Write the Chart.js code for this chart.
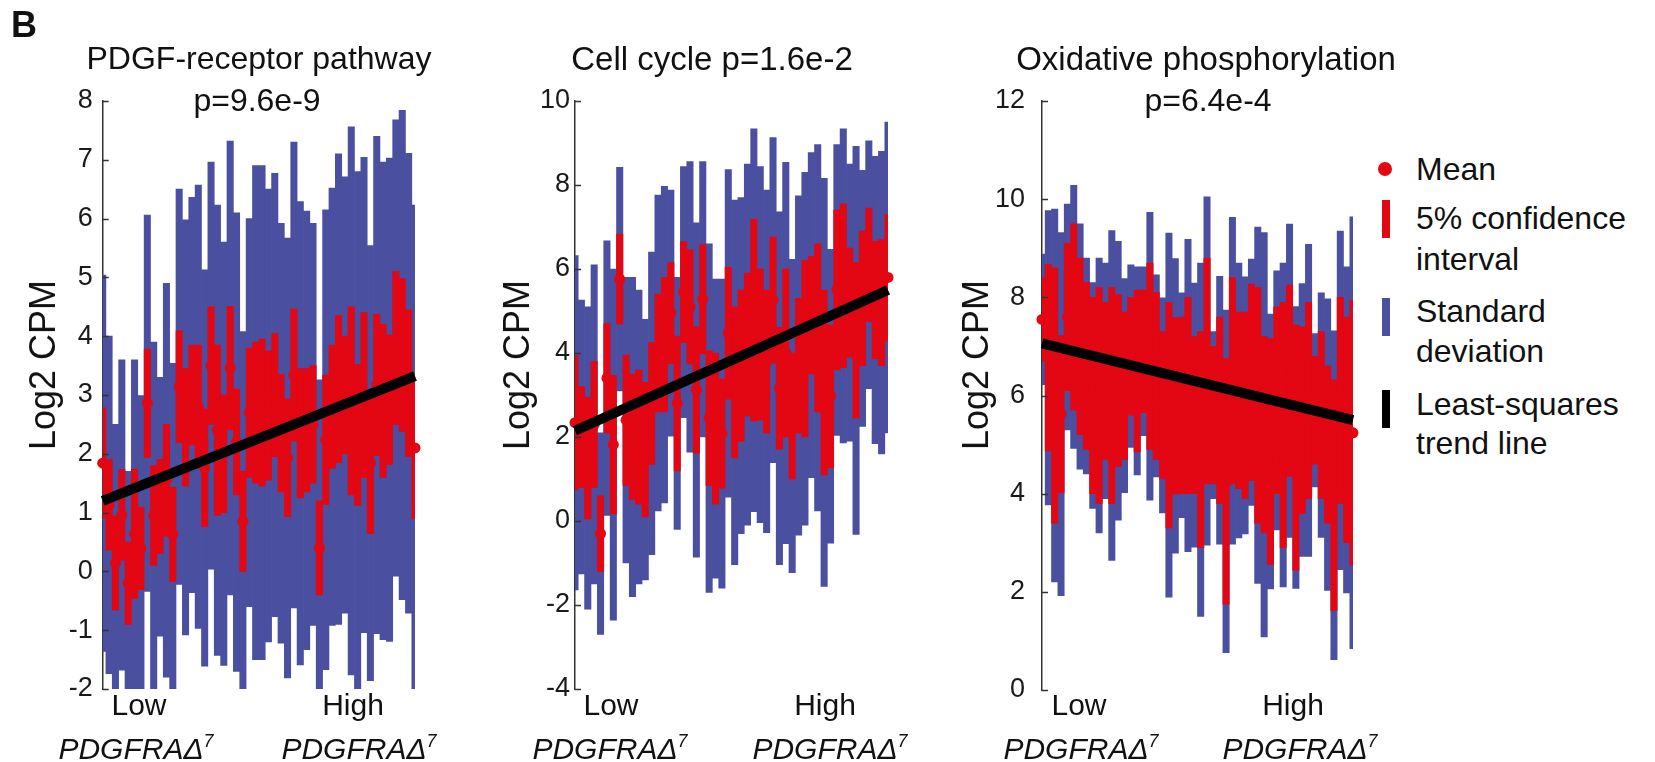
<!DOCTYPE html>
<html>
<head>
<meta charset="utf-8">
<script src="https://cdn.jsdelivr.net/npm/chart.js@4.4.1/dist/chart.umd.min.js"></script>
<style>
  html, body { margin: 0; padding: 0; background: #fff; }
  #fig { position: relative; width: 1655px; height: 762px; overflow: hidden;
         font-family: 'Liberation Sans', Arial, Helvetica, sans-serif; color: #111; }
  #fig canvas { position: absolute; top: 0; }
  .c { position: absolute; white-space: nowrap; transform: translate(-50%, -50%); line-height: 1; }
  .yt { position: absolute; white-space: nowrap; transform: translate(-50%, -50%) rotate(-90deg);
        line-height: 1; font-size: 36px; }
  .l { position: absolute; white-space: nowrap; transform: translateY(-50%); line-height: 1; font-size: 32px; }
  .ttl { font-size: 32px; }
  .xl { font-size: 30px; }
  .it { font-style: italic; }
  .it sup { font-size: 18px; vertical-align: 12px; line-height: 0; }
  .sw { position: absolute; }
</style>
</head>
<body>
<div id="fig">
  <canvas id="p1" width="440" height="762" style="left:0px"></canvas>
  <canvas id="p2" width="450" height="762" style="left:460px"></canvas>
  <canvas id="p3" width="450" height="762" style="left:920px"></canvas>

  <div class="c" style="left:24px;top:25px;font-size:36px;font-weight:bold;">B</div>

  <div class="c ttl" style="left:259px;top:58px;">PDGF-receptor pathway</div>
  <div class="c ttl" style="left:257px;top:100px;">p=9.6e-9</div>
  <div class="c ttl" style="left:712px;top:58px;font-size:33px;">Cell cycle p=1.6e-2</div>
  <div class="c ttl" style="left:1206px;top:58px;font-size:33px;">Oxidative phosphorylation</div>
  <div class="c ttl" style="left:1208px;top:100px;">p=6.4e-4</div>

  <div class="yt" style="left:43px;top:365px;">Log2 CPM</div>
  <div class="yt" style="left:517px;top:365px;">Log2 CPM</div>
  <div class="yt" style="left:976px;top:365px;">Log2 CPM</div>

  <div class="c xl" style="left:139px;top:705px;">Low</div>
  <div class="c xl" style="left:353px;top:705px;">High</div>
  <div class="c xl it" style="left:136px;top:749px;">PDGFRA&Delta;<sup>7</sup></div>
  <div class="c xl it" style="left:359px;top:749px;">PDGFRA&Delta;<sup>7</sup></div>

  <div class="c xl" style="left:611px;top:705px;">Low</div>
  <div class="c xl" style="left:825px;top:705px;">High</div>
  <div class="c xl it" style="left:610px;top:749px;">PDGFRA&Delta;<sup>7</sup></div>
  <div class="c xl it" style="left:830px;top:749px;">PDGFRA&Delta;<sup>7</sup></div>

  <div class="c xl" style="left:1079px;top:705px;">Low</div>
  <div class="c xl" style="left:1293px;top:705px;">High</div>
  <div class="c xl it" style="left:1081px;top:749px;">PDGFRA&Delta;<sup>7</sup></div>
  <div class="c xl it" style="left:1300px;top:749px;">PDGFRA&Delta;<sup>7</sup></div>

  <!-- legend -->
  <div class="sw" style="left:1378px;top:162px;width:14px;height:14px;border-radius:50%;background:#e30613;"></div>
  <div class="l" style="left:1416px;top:169px;">Mean</div>
  <div class="sw" style="left:1382px;top:200px;width:8px;height:38px;background:#e30613;"></div>
  <div class="l" style="left:1416px;top:218px;">5% confidence</div>
  <div class="l" style="left:1416px;top:259px;">interval</div>
  <div class="sw" style="left:1382px;top:298px;width:8px;height:38px;background:#4a4f9f;"></div>
  <div class="l" style="left:1416px;top:311px;">Standard</div>
  <div class="l" style="left:1416px;top:351px;">deviation</div>
  <div class="sw" style="left:1382px;top:390px;width:8px;height:38px;background:#000;"></div>
  <div class="l" style="left:1416px;top:404px;">Least-squares</div>
  <div class="l" style="left:1416px;top:443px;">trend line</div>
</div>

<script>
// PDGF-receptor pathway: per-sample mean, 5% CI half-width, standard deviation
const p1Mean = [1.84, 1.13, 0.14, 0.96, -0.2, 0.64, 0.39, 2.86, 0.95, 1.1, 1.55, 0.63, 3.14, 2.45, 3.0, 2.8, 1.76, 3.5, 2.4, 2.0, 3.46, 2.2, 0.85, 2.7, 2.7, 2.7, 2.65, 3.0, 2.35, 1.93, 3.34, 2.35, 2.4, 2.5, 0.4, 2.24, 2.8, 3.1, 3.0, 2.9, 2.32, 3.0, 1.84, 3.17, 2.9, 2.92, 3.8, 3.68, 3.2, 2.1];
const p1Ci = [0.94, 0.77, 0.8, 0.77, 0.7, 1.1, 0.7, 0.92, 0.85, 0.8, 0.95, 0.8, 0.95, 1.0, 0.85, 1.05, 1.0, 1.0, 1.45, 1.0, 1.05, 0.9, 0.85, 1.1, 1.2, 1.25, 1.1, 1.05, 1.0, 1.0, 1.12, 1.1, 1.05, 1.0, 0.8, 1.1, 1.05, 1.25, 1.0, 1.6, 1.2, 1.4, 1.2, 1.2, 1.3, 1.1, 1.3, 1.3, 1.25, 1.2];
const p1Sd = [3.2, 2.87, 2.36, 2.64, 1.9, 2.96, 2.6, 3.2, 2.95, 2.2, 3.35, 2.91, 3.36, 3.53, 3.36, 3.77, 3.37, 3.46, 3.83, 3.6, 3.86, 3.9, 3.23, 3.3, 4.2, 4.2, 3.85, 3.77, 3.57, 3.74, 3.96, 3.94, 3.73, 3.42, 2.86, 3.91, 3.72, 4.0, 3.71, 4.66, 4.48, 4.04, 3.7, 4.23, 4.06, 4.11, 3.88, 4.16, 3.91, 4.13];
const p1Trend = [1.2, 3.32];

// Cell cycle
const p2Mean = [2.34, 2.0, 1.5, 2.3, -0.3, 3.4, 1.82, 5.76, 2.4, 2.0, 2.0, 1.7, 2.8, 4.0, 4.2, 4.95, 2.8, 5.45, 5.1, 3.12, 5.28, 2.45, 2.2, 2.08, 4.47, 3.3, 3.7, 4.2, 4.78, 4.2, 3.8, 5.26, 3.16, 4.0, 2.5, 3.7, 4.1, 4.9, 4.6, 3.3, 2.97, 5.5, 5.6, 5.2, 4.3, 5.3, 6.1, 5.26, 5.2, 5.8];
const p2Ci = [1.6, 1.2, 1.45, 1.5, 0.9, 1.3, 1.65, 1.07, 1.55, 1.5, 1.6, 1.6, 1.45, 1.4, 1.6, 1.2, 1.6, 1.2, 1.36, 1.5, 1.3, 1.6, 1.8, 1.3, 1.57, 1.8, 1.8, 1.7, 2.4, 1.8, 1.7, 1.5, 1.45, 2.0, 1.5, 1.6, 2.1, 1.4, 2.0, 2.2, 1.7, 1.9, 1.95, 1.3, 1.85, 1.6, 1.35, 1.4, 1.5, 1.5];
const p2Sd = [3.98, 3.26, 3.6, 3.8, 2.4, 3.27, 4.18, 2.66, 3.4, 3.8, 3.5, 3.1, 3.6, 3.76, 3.77, 2.93, 3.0, 2.99, 3.46, 3.98, 3.28, 4.15, 3.56, 3.68, 3.9, 4.34, 4.0, 4.3, 4.56, 4.24, 4.08, 3.87, 4.2, 4.54, 3.73, 4.04, 4.2, 3.87, 4.36, 4.86, 3.5, 3.46, 3.74, 3.3, 4.62, 3.05, 2.95, 3.42, 3.6, 3.7];
const p2Trend = [2.15, 5.5];

// Oxidative phosphorylation
const p3Mean = [7.55, 6.77, 6.0, 5.62, 7.6, 7.6, 7.0, 6.6, 6.0, 6.0, 6.3, 6.0, 6.3, 6.2, 6.8, 6.5, 6.9, 6.8, 6.4, 5.8, 5.6, 5.79, 5.8, 6.0, 5.6, 5.1, 6.5, 5.6, 5.7, 4.25, 6.3, 5.9, 5.8, 6.27, 5.8, 5.2, 4.86, 5.9, 5.4, 6.3, 4.94, 5.5, 5.9, 5.7, 5.6, 5.0, 3.97, 5.9, 5.3, 5.24];
const p3Ci = [0.85, 1.9, 2.6, 1.6, 1.5, 1.9, 1.8, 1.7, 2.0, 2.2, 1.6, 2.2, 1.75, 1.5, 1.2, 1.65, 1.25, 1.9, 1.7, 1.5, 2.3, 1.8, 1.8, 2.0, 1.6, 2.2, 2.3, 1.4, 1.9, 2.5, 2.1, 1.8, 1.9, 2.0, 2.4, 2.0, 2.3, 1.9, 2.5, 1.95, 2.5, 1.9, 2.0, 1.1, 1.7, 1.6, 2.35, 2.1, 2.3, 2.7];
const p3Sd = [1.33, 3.0, 3.8, 3.7, 2.3, 2.68, 2.5, 2.2, 2.3, 2.8, 2.4, 3.36, 2.84, 2.18, 1.86, 2.12, 1.72, 2.93, 2.06, 2.19, 3.71, 3.0, 2.29, 3.18, 2.69, 3.6, 3.55, 1.7, 2.73, 3.49, 3.33, 2.8, 2.62, 2.51, 3.63, 4.12, 2.8, 2.64, 3.3, 3.19, 2.87, 2.78, 3.18, 1.56, 2.49, 2.97, 3.35, 3.45, 3.32, 4.4];
const p3Trend = [7.06, 5.5];

// y axis ranges [min, max, step]
const p1Axis = [-2, 8, 1];
const p2Axis = [-4, 10, 2];
const p3Axis = [0, 12, 2];

const RED = '#e30613';
const BLUE = '#4a4f9f';
Chart.defaults.font.family = "'Liberation Sans', Arial, Helvetica, sans-serif";

// short tick marks pointing into the plot
const inTicks = {
  id: 'inTicks',
  afterDraw(chart) {
    const ctx = chart.ctx, area = chart.chartArea, y = chart.scales.y;
    ctx.save();
    ctx.strokeStyle = '#333';
    ctx.lineWidth = 1.5;
    y.ticks.forEach(t => {
      const py = Math.round(y.getPixelForValue(t.value)) + 0.5;
      ctx.beginPath();
      ctx.moveTo(area.left, py);
      ctx.lineTo(area.left + 6, py);
      ctx.stroke();
    });
    ctx.restore();
  }
};

function makePanel(id, mean, ci, sd, trend, axis, lay) {
  const n = mean.length;
  const sdBars = mean.map((m, i) => ({ x: i + 1, y: [m - sd[i], m + sd[i]] }));
  const ciBars = mean.map((m, i) => ({ x: i + 1, y: [m - ci[i], m + ci[i]] }));
  const dots = mean.map((m, i) => ({ x: i + 1, y: m }));
  const line = [{ x: 1, y: trend[0] }, { x: n, y: trend[1] }];

  new Chart(document.getElementById(id), {
    type: 'bar',
    data: {
      datasets: [
        { type: 'bar', data: sdBars, backgroundColor: BLUE, order: 4, clip: 0,
          grouped: false, barPercentage: 1, categoryPercentage: 1, borderWidth: 0 },
        { type: 'bar', data: ciBars, backgroundColor: RED, order: 3, clip: 0,
          grouped: false, barPercentage: 1, categoryPercentage: 1, borderWidth: 0 },
        { type: 'line', data: dots, showLine: false, order: 2, clip: false,
          pointRadius: 5.5, pointBackgroundColor: RED, pointBorderWidth: 0 },
        { type: 'line', data: line, order: 1, clip: false, borderColor: '#000',
          borderWidth: 10, pointRadius: 0, borderCapStyle: 'butt' }
      ]
    },
    options: {
      responsive: false,
      devicePixelRatio: 1,
      animation: false,
      events: [],
      layout: { padding: { left: 0, right: lay.right, top: lay.top, bottom: lay.bottom } },
      plugins: { legend: { display: false }, tooltip: { enabled: false } },
      scales: {
        x: { type: 'linear', min: 1, max: n, offset: false, display: false },
        y: {
          min: axis[0], max: axis[1], z: 1,
          ticks: { stepSize: axis[2], color: '#1a1a1a', padding: lay.tickPad, font: { size: 27 } },
          grid: { display: false, drawTicks: false },
          border: { display: true, color: '#333', width: 1.5 },
          afterFit: s => { s.width = lay.axisW; }
        }
      }
    },
    plugins: [inTicks]
  });
}

makePanel('p1', p1Mean, p1Ci, p1Sd, p1Trend, p1Axis,
  { axisW: 102.7, right: 25, top: 101, bottom: 73, tickPad: 10 });
makePanel('p2', p2Mean, p2Ci, p2Sd, p2Trend, p2Axis,
  { axisW: 115, right: 22, top: 101, bottom: 73, tickPad: 5 });
makePanel('p3', p3Mean, p3Ci, p3Sd, p3Trend, p3Axis,
  { axisW: 122, right: 17, top: 101, bottom: 72, tickPad: 17 });
</script>
</body>
</html>
